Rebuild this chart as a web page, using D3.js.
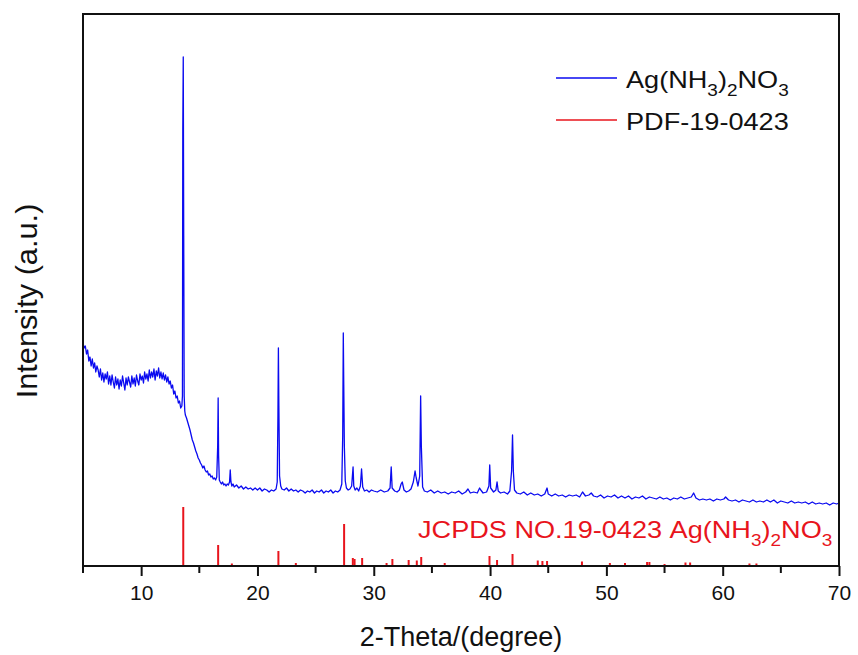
<!DOCTYPE html>
<html lang="en">
<head>
<meta charset="UTF-8">
<title>XRD Ag(NH3)2NO3</title>
<script src="https://d3js.org/d3.v7.min.js"></script>
<style>
    body { margin: 0; background: #fff; }
    text { font-family: Arial, "Liberation Sans", sans-serif; }
</style>
</head>
<body>
<svg width="858" height="655"></svg>
<script>
    // measured XRD scan: [2-theta, intensity (a.u.)]
    const scan = [
        [5.0,223],[5.1,218],[5.2,220],[5.3,212],[5.4,216],[5.5,205],[5.6,209],[5.7,200],[5.8,207],[5.9,198],
        [6.0,203],[6.1,194],[6.2,200],[6.3,196],[6.4,189],[6.5,197],[6.6,186],[6.7,193],[6.8,184],[6.9,192],
        [7.0,187],[7.1,194],[7.2,182],[7.3,190],[7.4,181],[7.5,191],[7.6,184],[7.7,178],[7.8,189],[7.9,181],
        [8.0,187],[8.1,177],[8.2,186],[8.3,180],[8.4,190],[8.5,183],[8.6,176],[8.7,188],[8.8,181],[8.9,189],
        [9.0,184],[9.1,179],[9.2,190],[9.3,182],[9.4,188],[9.5,180],[9.6,191],[9.7,185],[9.8,181],[9.9,192],
        [10.0,186],[10.1,190],[10.2,183],[10.3,194],[10.4,187],[10.5,192],[10.6,185],[10.7,196],[10.8,188],[10.9,194],
        [11.0,189],[11.1,197],[11.2,186],[11.3,195],[11.4,190],[11.5,198],[11.6,188],[11.7,194],[11.8,187],[11.9,193],
        [12.0,186],[12.1,191],[12.2,184],[12.3,189],[12.4,182],[12.5,185],[12.6,178],[12.7,181],[12.8,172],[12.9,175],
        [13.0,168],[13.1,170],[13.2,163],[13.3,165],[13.4,158],[13.5,160],
        [13.55,170],[13.58,437],[13.62,509],[13.66,330],[13.7,170],[13.75,155],
        [13.8,151],[13.9,148],[14.0,144],[14.1,140],[14.2,136],[14.3,131],[14.4,126],[14.5,123],[14.6,119],[14.7,115],
        [14.8,112],[14.9,108],[15.0,106],[15.1,103],[15.2,101],[15.3,98],[15.4,100],[15.5,96],[15.6,94],[15.7,95],
        [15.8,91],[15.9,92],[16.0,89],[16.1,90],[16.2,87],[16.3,88],[16.4,86],[16.5,89],
        [16.58,120],[16.62,168],[16.66,110],[16.72,86],
        [16.8,84],[16.9,82],[17.0,84],[17.1,81],[17.2,82],[17.3,80],[17.4,82],[17.5,81],[17.6,84],[17.66,96],[17.72,84],
        [17.8,80],[17.9,82],[18.0,79],[18.2,81],[18.4,78],[18.6,80],[18.8,77],[19.0,79],[19.2,77],[19.4,78],
        [19.6,76],[19.8,78],[20.0,76],[20.2,78],[20.4,75],[20.6,77],[20.8,76],[21.0,74],[21.2,76],[21.4,75],[21.6,77],
        [21.7,84],[21.76,150],[21.8,218],[21.84,160],[21.9,90],[22.0,80],
        [22.1,77],[22.3,76],[22.5,78],[22.7,75],[22.9,77],[23.1,75],[23.3,76],[23.5,74],[23.7,76],[23.9,75],
        [24.1,73],[24.3,75],[24.5,74],[24.7,76],[24.9,73],[25.1,75],[25.3,74],[25.5,76],[25.7,73],[25.9,75],
        [26.1,74],[26.3,76],[26.5,73],[26.7,75],[26.9,74],[27.1,76],
        [27.25,82],[27.33,130],[27.38,233],[27.42,181],[27.47,120],[27.55,85],[27.65,78],
        [27.8,76],[27.95,77],[28.1,80],[28.22,99],[28.28,80],[28.4,76],[28.55,78],[28.7,75],[28.85,80],[28.95,97],
        [29.05,79],[29.2,75],[29.4,76],[29.6,74],[29.8,76],[30.0,75],[30.3,74],[30.6,76],[30.9,74],[31.2,75],
        [31.4,78],[31.5,99],[31.58,78],[31.8,75],[32.0,74],[32.2,76],[32.35,82],[32.45,84],[32.6,76],[32.8,74],
        [33.0,75],[33.2,77],[33.4,84],[33.55,95],[33.65,88],[33.8,80],[33.95,90],[34.03,170],[34.09,120],[34.2,79],
        [34.35,75],[34.6,74],[34.9,76],[35.2,73],[35.5,75],[35.8,73],[36.1,74],[36.4,72],[36.7,74],[37.0,73],
        [37.3,75],[37.6,72],[37.9,74],[38.1,77],[38.3,73],[38.6,74],[38.9,73],[39.1,78],[39.2,76],[39.4,73],
        [39.7,74],[39.9,80],[39.97,101],[40.05,78],[40.3,74],[40.5,76],[40.6,84],[40.7,75],[40.9,73],[41.2,74],
        [41.5,72],[41.7,75],[41.85,95],[41.93,131],[42.0,95],[42.1,76],[42.3,73],[42.6,72],[42.9,74],[43.2,71],
        [43.5,73],[43.8,71],[44.1,72],[44.4,70],[44.7,72],[44.9,78],[45.0,72],[45.3,70],[45.6,72],[45.9,70],
        [46.2,71],[46.5,69],[46.8,71],[47.1,70],[47.4,71],[47.7,69],[47.95,74],[48.2,70],[48.5,71],[48.7,73],
        [48.9,70],[49.2,69],[49.5,71],[49.8,68],[50.1,70],[50.4,69],[50.7,71],[51.0,68],[51.3,70],[51.6,68],
        [51.9,70],[52.2,67],[52.5,69],[52.8,68],[53.1,70],[53.4,67],[53.7,69],[54.0,68],[54.3,67],[54.6,69],
        [54.9,67],[55.2,68],[55.5,66],[55.8,68],[56.1,67],[56.4,69],[56.7,67],[57.0,68],[57.3,69],[57.5,73],
        [57.7,68],[58.0,66],[58.3,67],[58.6,66],[58.9,67],[59.2,65],[59.5,67],[59.8,66],[60.1,67],[60.25,69],
        [60.5,66],[60.8,65],[61.1,66],[61.4,64],[61.7,66],[62.0,65],[62.3,64],[62.6,66],[62.9,64],[63.2,65],
        [63.5,64],[63.8,66],[64.1,64],[64.4,66],[64.7,63],[65.0,65],[65.3,64],[65.6,63],[65.9,65],[66.2,63],
        [66.5,64],[66.8,63],[67.1,64],[67.4,62],[67.7,64],[68.0,62],[68.3,63],[68.6,62],[68.9,63],[69.2,61],
        [69.5,63],[69.8,62],[70.0,63]
    ];

    // reference pattern PDF-19-0423
    const refAngles  = [13.62, 16.62, 17.8, 21.8, 23.3, 27.45, 28.2, 28.35, 29.0, 31.1, 31.6, 33.0, 33.7, 34.08,
                        36.1, 39.95, 40.6, 41.93, 44.1, 44.5, 44.9, 47.9, 50.3, 51.6, 53.5, 53.7, 55.0, 56.8, 57.2,
                        62.3, 62.9];
    const refHeights = [59, 21, 2.5, 15, 3, 42, 8, 7, 8, 3, 7, 6, 5.5, 9,
                        3, 10, 6, 12, 5.5, 5, 5, 4.5, 3, 3, 4, 4, 2, 3.5, 3.5,
                        2.5, 2.5];

    const xMajorTicks = [10, 20, 30, 40, 50, 60, 70];
    const xMinorTicks = [5, 15, 25, 35, 45, 55, 65];

    const svg = d3.select("svg");
    const plotLeft = 83, plotRight = 839, plotTop = 14, plotBottom = 566;

    const x = d3.scaleLinear().domain([5, 70]).range([plotLeft, plotRight]);
    const y = d3.scaleLinear().domain([0, 552]).range([plotBottom, plotTop]);

    // reference sticks
    svg.append("g").selectAll("line")
        .data(refAngles)
        .enter()
        .append("line")
        .attr("x1", d => x(d)).attr("x2", d => x(d))
        .attr("y1", y(0))
        .attr("y2", (d, i) => y(refHeights[i]))
        .attr("stroke", "#e8141c")
        .attr("stroke-width", 2);

    // scan line
    const line = d3.line().x(d => x(d[0])).y(d => y(d[1]));
    svg.append("path")
        .datum(scan)
        .attr("d", line)
        .attr("fill", "none")
        .attr("stroke", "#0a0af0")
        .attr("stroke-width", 1.3)
        .attr("stroke-linejoin", "round");

    // frame
    svg.append("rect")
        .attr("x", plotLeft).attr("y", plotTop)
        .attr("width", plotRight - plotLeft).attr("height", plotBottom - plotTop)
        .attr("fill", "none")
        .attr("stroke", "#111")
        .attr("stroke-width", 2);

    // x axis
    const xAxis = d3.axisBottom(x)
        .tickValues(xMajorTicks)
        .tickSize(10)
        .tickPadding(9)
        .tickFormat(d3.format("d"));
    const gx = svg.append("g")
        .attr("transform", `translate(0,${plotBottom})`)
        .call(xAxis);
    gx.select(".domain").remove();
    gx.selectAll(".tick line").attr("stroke", "#111").attr("stroke-width", 2);
    gx.selectAll(".tick text")
        .attr("font-size", 21)
        .attr("fill", "#111")
        .style("font-family", "Arial, 'Liberation Sans', sans-serif");

    svg.append("g").selectAll("line")
        .data(xMinorTicks)
        .enter()
        .append("line")
        .attr("x1", d => x(d)).attr("x2", d => x(d))
        .attr("y1", plotBottom).attr("y2", plotBottom + 7)
        .attr("stroke", "#111").attr("stroke-width", 2);

    // axis titles
    svg.append("text")
        .attr("x", (plotLeft + plotRight) / 2)
        .attr("y", 646)
        .attr("text-anchor", "middle")
        .attr("font-size", 27)
        .attr("fill", "#111")
        .text("2-Theta/(degree)");

    svg.append("text")
        .attr("transform", "translate(37,301) rotate(-90) scale(1.06,1)")
        .attr("text-anchor", "middle")
        .attr("font-size", 29)
        .attr("fill", "#111")
        .text("Intensity (a.u.)");

    // formula text with subscripts
    function formula(sel, parts) {
        let shifted = false;
        parts.forEach(p => {
            const ts = sel.append("tspan").text(p.t);
            if (p.sub) {
                ts.attr("font-size", "0.7em").attr("dy", shifted ? 0 : 8);
                shifted = true;
            } else {
                if (shifted) ts.attr("dy", -8);
                shifted = false;
            }
        });
    }
    const agParts = [{t: "Ag(NH"}, {t: "3", sub: true}, {t: ")"}, {t: "2", sub: true},
                     {t: "NO"}, {t: "3", sub: true}];

    // in-plot label (text in the original is slightly stretched sideways)
    const lab = svg.append("text")
        .attr("transform", "translate(418,538) scale(1.13,1)")
        .attr("font-size", 24)
        .attr("fill", "#e8141c");
    formula(lab, [{t: "JCPDS NO.19-0423 "}].concat(agParts));

    // legend
    const legend = [
        {color: "#0a0af0", y: 78, parts: agParts},
        {color: "#e8141c", y: 120, parts: [{t: "PDF-19-0423"}]}
    ];
    legend.forEach(l => {
        svg.append("line")
            .attr("x1", 556).attr("x2", 617)
            .attr("y1", l.y).attr("y2", l.y)
            .attr("stroke", l.color).attr("stroke-width", 1.5);
        const t = svg.append("text")
            .attr("transform", `translate(626,${l.y + 10}) scale(1.13,1)`)
            .attr("font-size", 24)
            .attr("fill", "#111");
        formula(t, l.parts);
    });
</script>
</body>
</html>
